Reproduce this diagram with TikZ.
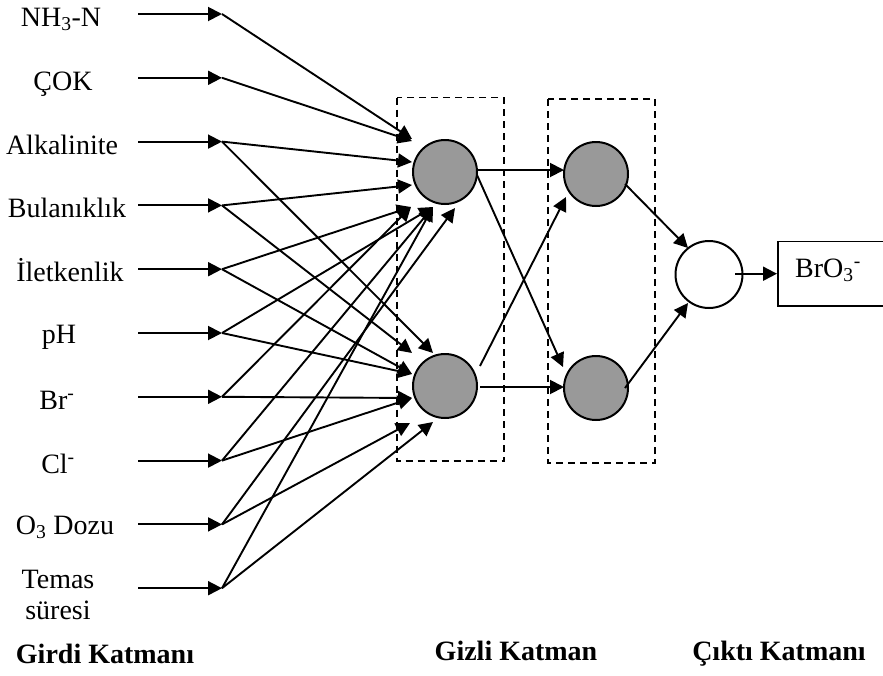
\documentclass[tikz,border=0pt]{standalone}
\usepackage{fontspec}
\setmainfont{Liberation Serif}
\usetikzlibrary{arrows.meta}
\definecolor{nodegray}{RGB}{153,153,153}
\begin{document}
\begin{tikzpicture}[x=1pt,y=-1pt,
  lbl/.style={font=\fontsize{28}{31}\selectfont, inner sep=0pt},
  ttl/.style={font=\fontsize{28}{31}\selectfont\bfseries, inner sep=0pt, anchor=base},
  neuron/.style={circle, draw, line width=2pt, fill=nodegray, minimum size=64pt, inner sep=0pt},
  conn/.style={line width=1.9pt, -{Triangle[length=14pt,width=14pt]}},
  layerbox/.style={draw, dash pattern=on 7pt off 5pt, line width=1.9pt},
]
\useasboundingbox (0,0) rectangle (883,675);

% input rows
\foreach \i/\y in {1/14,2/77.8,3/141.6,4/205.4,5/269.2,6/333,7/396.8,8/460.6,9/524.4,10/588.2}{
  \coordinate (b\i) at (138,\y);
  \coordinate (s\i) at (222,\y);
  \draw[conn] (b\i) -- (s\i);
}

% input labels
\node[lbl, anchor=base] (l1) at (61,26) {NH\textsubscript{3}-N};
\node[lbl, anchor=base] (l2) at (63,90) {ÇOK};
\node[lbl, anchor=base] (l3) at (62,154) {Alkalinite};
\node[lbl, anchor=base] (l4) at (67,217) {Bulanıklık};
\node[lbl, anchor=base] (l5) at (70,281) {İletkenlik};
\node[lbl, anchor=base] (l6) at (59,343) {pH};
\node[lbl, anchor=base] (l7) at (57,409) {Br\textsuperscript{-}};
\node[lbl, anchor=base] (l8) at (58,473) {Cl\textsuperscript{-}};
\node[lbl, anchor=base] (l9) at (65,534) {O\textsubscript{3} Dozu};
\node[lbl, align=center] (l10) at (58,595) {Temas\\süresi};

% layer boxes
\draw[layerbox] (397,97.5) rectangle (504,461);
\draw[layerbox] (548,99) rectangle (655,463);

% neurons
\node[neuron] (h1) at (445,172) {};
\node[neuron] (h2) at (445,386) {};
\node[neuron] (g1) at (596,174) {};
\node[neuron] (g2) at (596,388) {};
\node[neuron, fill=white, minimum size=67pt] (o) at (709,274.5) {};

% output box
\node[draw, line width=1.9pt, minimum width=130pt, minimum height=64.5pt, anchor=west, inner sep=0pt] (box) at (777,273.7) {};
\node[lbl, anchor=base] (outlbl) at (828,277) {BrO\textsubscript{3}\textsuperscript{-}};

% arrow tips near the first hidden layer
\coordinate (t1) at (412,139);
\coordinate (t2) at (412,141);
\coordinate (t3) at (412,162);
\coordinate (t4) at (412,185);
\coordinate (t5) at (411,207);
\coordinate (t6) at (433,207);
\coordinate (t7) at (455,208);
\coordinate (u1) at (433,353);
\coordinate (u2) at (412,353);
\coordinate (u3) at (412,374);
\coordinate (u4) at (412,398);
\coordinate (u5) at (410,423);
\coordinate (u6) at (433,422);

\draw[conn] (s1) -- (t1);
\draw[conn] (s2) -- (t2);
\draw[conn] (s3) -- (t3);
\draw[conn] (s4) -- (t4);
\draw[conn] (s5) -- (t5);
\draw[conn] (s6) -- (t6);
\draw[conn] (s7) -- (t5);
\draw[conn] (s8) -- (t6);
\draw[conn] (s9) -- (t7);
\draw[conn] (s10) -- (t6);
\draw[conn] (s3) -- (u1);
\draw[conn] (s4) -- (u2);
\draw[conn] (s5) -- (u3);
\draw[conn] (s6) -- (u3);
\draw[conn] (s7) -- (u4);
\draw[conn] (s8) -- (u4);
\draw[conn] (s9) -- (u5);
\draw[conn] (s10) -- (u6);

% hidden to hidden
\coordinate (h1a) at (477,170);
\coordinate (h1b) at (477,175);
\coordinate (h2a) at (480,366);
\coordinate (h2b) at (480,387);
\coordinate (g1w) at (564,170);
\coordinate (g1b) at (566,197);
\coordinate (g2t) at (563,367);
\coordinate (g2w) at (564,387);
\coordinate (g1o) at (625,184);
\coordinate (g2o) at (625,388);
\coordinate (oa) at (688,248);
\coordinate (ob) at (688,303);
\coordinate (os) at (735,273.7);

\draw[conn] (h1a) -- (g1w);
\draw[conn] (h1b) -- (g2t);
\draw[conn] (h2a) -- (g1b);
\draw[conn] (h2b) -- (g2w);
\draw[conn] (g1o) -- (oa);
\draw[conn] (g2o) -- (ob);
\draw[conn] (os) -- (box.west);

% layer titles
\node[ttl] (c1) at (105,663) {Girdi Katmanı};
\node[ttl] (c2) at (516,660) {Gizli Katman};
\node[ttl] (c3) at (779,660) {Çıktı Katmanı};
\end{tikzpicture}
\end{document}
